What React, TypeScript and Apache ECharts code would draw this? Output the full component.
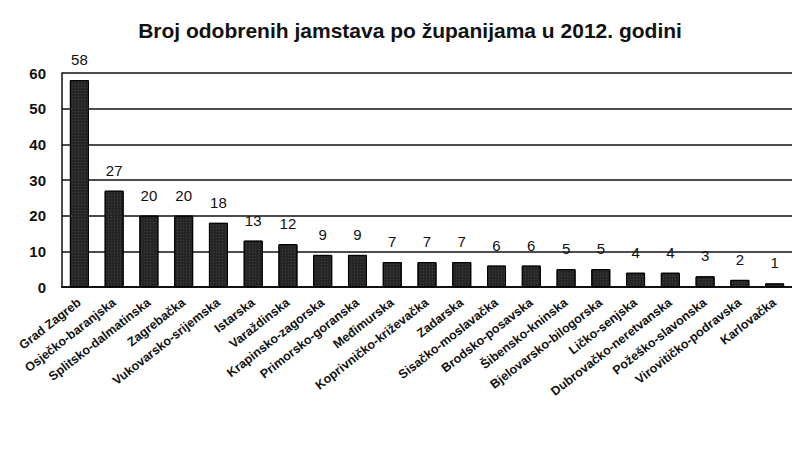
import React, { useEffect, useRef } from "react";
import * as echarts from "echarts";

const categories = [
  "Grad Zagreb",
  "Osječko-baranjska",
  "Splitsko-dalmatinska",
  "Zagrebačka",
  "Vukovarsko-srijemska",
  "Istarska",
  "Varaždinska",
  "Krapinsko-zagorska",
  "Primorsko-goranska",
  "Međimurska",
  "Koprivničko-križevačka",
  "Zadarska",
  "Sisačko-moslavačka",
  "Brodsko-posavska",
  "Šibensko-kninska",
  "Bjelovarsko-bilogorska",
  "Ličko-senjska",
  "Dubrovačko-neretvanska",
  "Požeško-slavonska",
  "Virovitičko-podravska",
  "Karlovačka",
];

const values = [58, 27, 20, 20, 18, 13, 12, 9, 9, 7, 7, 7, 6, 6, 5, 5, 4, 4, 3, 2, 1];

const titleText = "Broj odobrenih jamstava po županijama u 2012. godini";

export default function App() {
  const ref = useRef<HTMLDivElement>(null);
  useEffect(() => {
    if (!ref.current) return;
    const chart = echarts.init(ref.current, undefined, { renderer: "svg" });
    chart.setOption({
      animation: false,
      backgroundColor: "#ffffff",
      title: {
        text: titleText,
        left: 405,
        textAlign: "center",
        top: 15,
        textStyle: {
          fontFamily: "Liberation Sans",
          fontSize: 21,
          fontWeight: "bold",
          color: "#111",
        },
      },
      grid: { left: 62, right: 0, top: 73, bottom: 163, containLabel: false },
      xAxis: {
        type: "category",
        data: categories,
        axisLine: { show: true, lineStyle: { color: "#111", width: 2 } },
        axisTick: { show: false },
        axisLabel: {
          interval: 0,
          rotate: 38,
          margin: 14,
          fontFamily: "Liberation Sans",
          fontSize: 12.5,
          fontWeight: "bold",
          color: "#111",
        },
      },
      yAxis: {
        type: "value",
        min: 0,
        max: 60,
        interval: 10,
        axisLine: { show: true, lineStyle: { color: "#111", width: 1.5 } },
        axisTick: { show: false },
        axisLabel: {
          margin: 16,
          fontFamily: "Liberation Sans",
          fontSize: 15,
          fontWeight: "bold",
          color: "#111",
        },
        splitLine: { show: true, lineStyle: { color: "#111", width: 1.5 } },
      },
      series: [
        {
          type: "bar",
          data: values,
          barWidth: 19,
          itemStyle: {
            color: "#262626",
            borderColor: "#000",
            borderWidth: 1,
            decal: {
              symbol: "rect",
              symbolSize: 0.6,
              color: "rgba(255,255,255,0.4)",
              dashArrayX: [1, 2],
              dashArrayY: [1, 2],
            },
          },
          label: {
            show: true,
            position: "top",
            distance: 13,
            fontFamily: "Liberation Sans",
            fontSize: 15,
            color: "#111",
          },
        },
      ],
    });
    return () => chart.dispose();
  }, []);
  return (
    <div
      ref={ref}
      style={{ position: "absolute", left: 0, top: 0, width: 792, height: 450 }}
    />
  );
}
